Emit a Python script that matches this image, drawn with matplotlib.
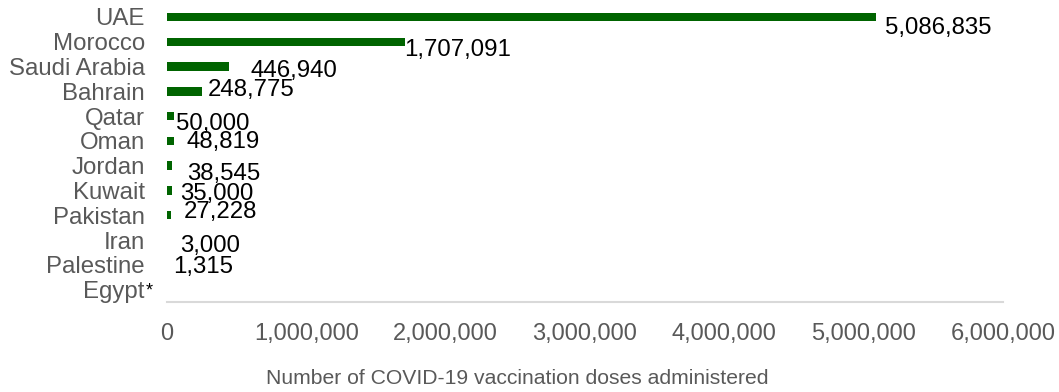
import matplotlib.pyplot as plt
import numpy as np

plt.rcParams['font.family'] = ['Liberation Sans', 'DejaVu Sans']

countries = ["UAE", "Morocco", "Saudi Arabia", "Bahrain", "Qatar", "Oman",
             "Jordan", "Kuwait", "Pakistan", "Iran", "Palestine", "Egypt"]
doses = [5086835, 1707091, 446940, 248775, 50000, 48819,
         38545, 35000, 27228, 3000, 1315, None]
x_ticks = [0, 1000000, 2000000, 3000000, 4000000, 5000000, 6000000]

# hand-placed data labels: (dx, dy) in pixels from the bar end, down positive
label_nudge = [(9, 8), (-1, 5), (21, 1), (6, -4), (2, 5), (13, -2),
               (15, 5), (8, 1), (13, -6), (13, 3), (6, -1), None]

green = '#006400'
grey = '#595959'

fig = plt.figure(figsize=(10.59, 3.92), dpi=100)
ax = fig.add_axes([167/1059, 90/392, 836/1059, 297.4/392])

y = np.arange(len(countries))
vals = [v if v is not None else 0 for v in doses]
ax.barh(y, vals, height=0.34, color=green)

ax.set_xlim(0, 6000000)
ax.set_ylim(11.5, -0.5)

ax.set_yticks(y)
ax.set_yticklabels(countries, fontsize=17.3, color=grey)
ax.set_xticks(x_ticks)
ax.set_xticklabels([f"{t:,}" for t in x_ticks], fontsize=17, color=grey)
ax.tick_params(axis='y', length=0, pad=16)
ax.tick_params(axis='x', length=0, pad=15)

for s in ['top', 'right', 'left']:
    ax.spines[s].set_visible(False)
ax.spines['bottom'].set_color('#d9d9d9')
ax.spines['bottom'].set_linewidth(1.5)

for i, v in enumerate(doses):
    if v is None:
        continue
    dx, dy = label_nudge[i]
    ax.annotate(f"{v:,}", xy=(v, i), xytext=(dx * 0.72, -(dy + 3) * 0.72),
                textcoords='offset points', ha='left', va='center',
                fontsize=17.3, color='black')

# footnote marker after Egypt
ax.annotate("*", xy=(0, 11), xytext=(-13, -1), textcoords='offset points',
            ha='center', va='center', fontsize=13, color='black')

fig.text(517/1059, 1 - 379/392, "Number of COVID-19 vaccination doses administered",
         ha='center', va='center', fontsize=15.2, color=grey)

fig.savefig('out.png', dpi=100)
